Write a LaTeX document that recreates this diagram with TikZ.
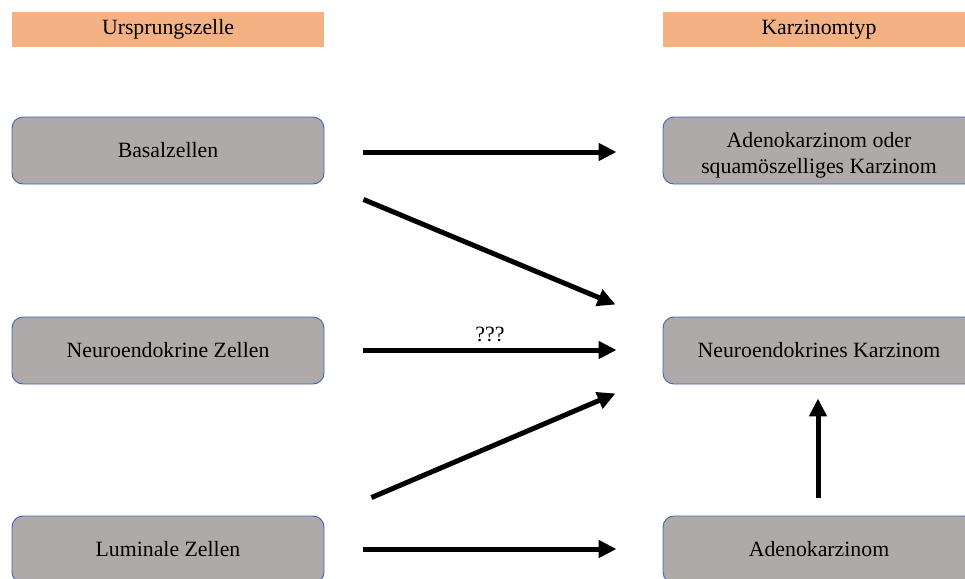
\documentclass[tikz,border=0pt]{standalone}
\usepackage{fontspec}
\setmainfont{LiberationSerif}[Extension=.ttf, UprightFont=*-Regular, BoldFont=*-Bold]
\usetikzlibrary{arrows.meta,calc}
\definecolor{headfill}{HTML}{F4B183}
\definecolor{cellfill}{HTML}{AEAAAA}
\definecolor{cellline}{HTML}{3F66AC}
\begin{document}
\begin{tikzpicture}[x=1pt,y=-1pt,
  every node/.style={font=\rmfamily\fontsize{21.8}{26}\selectfont, text=black, inner sep=0pt, align=center},
  head/.style={fill=headfill, minimum width=312pt, minimum height=35pt},
  cell/.style={fill=cellfill, draw=cellline, line width=0.9pt, rounded corners=11pt,
               minimum width=312pt, minimum height=67pt},
  flow/.style={line width=5pt, -{Triangle[length=18pt,width=17pt]}}]
  \useasboundingbox (0,0) rectangle (965,578);
  \begin{scope}
    \clip (0,0) rectangle (965,578);
    % column headers
    \node[head] (hl) at (168,29.5) {Ursprungszelle};
    \node[head] (hr) at (819,29.5) {Karzinomtyp};
    % cells of origin
    \node[cell] (bas) at (168,150.5) {Basalzellen};
    \node[cell] (neu) at (168,350.5) {Neuroendokrine Zellen};
    \node[cell] (lum) at (168,549.5) {Luminale Zellen};
    % carcinoma types
    \node[cell, label={[yshift=-5pt]center:Adenokarzinom oder\\squamöszelliges Karzinom}] (adsq) at (819,150.5) {};
    \node[cell] (nek) at (819,350.5) {Neuroendokrines Karzinom};
    \node[cell] (ade) at (819,549.5) {Adenokarzinom};
  \end{scope}
  % transitions
  \draw[flow] ($(bas.east)+(39,1.5)$) -- ($(adsq.west)+(-46,1.5)$);
  \draw[flow] ($(bas.south east)+(39,15)$) -- ($(nek.north west)+(-47,-12)$);
  \draw[flow] ($(neu.east)+(39,-0.5)$) -- node[above=6pt] {???} ($(nek.west)+(-46,-0.5)$);
  \draw[flow] ($(lum.north east)+(47,-18)$) -- ($(nek.south west)+(-47,9)$);
  \draw[flow] ($(lum.east)+(39,-0.5)$) -- ($(ade.west)+(-46,-0.5)$);
  \draw[flow] ($(ade.north)+(-1,-18)$) -- ($(nek.south)+(-1,14)$);
\end{tikzpicture}
\end{document}
